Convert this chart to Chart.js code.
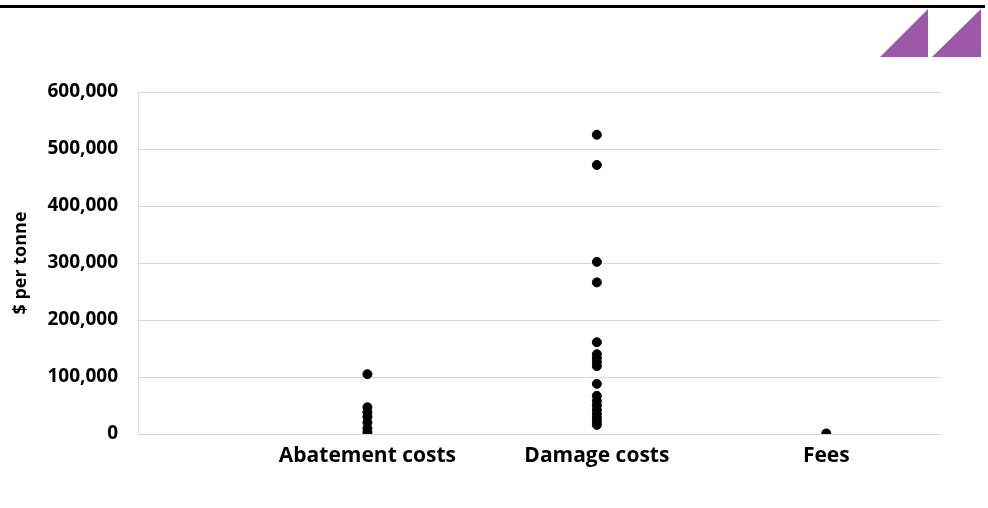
<!DOCTYPE html>
<html>
<head>
<meta charset="utf-8">
<script src="https://cdn.jsdelivr.net/npm/chart.js@4/dist/chart.umd.min.js"></script>
<style>
  html, body { margin: 0; padding: 0; background: #fff; }
  #wrap { position: relative; width: 988px; height: 508px; }
</style>
</head>
<body>
<div id="wrap"><canvas id="chart" width="988" height="508"></canvas></div>
<script>
// Values ($ per tonne)
const categories = ['Abatement costs', 'Damage costs', 'Fees'];
const abatementCosts = [105000, 47000, 38000, 30000, 20000, 10000, 3000];
const damageCosts = [525000, 472000, 302000, 266000, 161000, 140000, 133000, 126000, 119000,
  88000, 67000, 58000, 50000, 42000, 35000, 28000, 22000, 16000];
const fees = [1000];
const yTicks = [0, 100000, 200000, 300000, 400000, 500000, 600000];

const seriesValues = [abatementCosts, damageCosts, fees];
const points = [];
seriesValues.forEach((vals, i) => {
  vals.forEach(v => points.push({ x: i + 1, y: v }));
});

// header rule and purple corner triangles
const decor = {
  id: 'decor',
  beforeDraw(chart) {
    const ctx = chart.ctx;
    ctx.save();
    ctx.fillStyle = '#000';
    ctx.fillRect(0, 5, 985, 3);
    ctx.fillStyle = '#9b59a8';
    ctx.beginPath();
    ctx.moveTo(880, 57); ctx.lineTo(928, 9); ctx.lineTo(928, 57); ctx.closePath();
    ctx.fill();
    ctx.beginPath();
    ctx.moveTo(932, 57); ctx.lineTo(981, 9); ctx.lineTo(981, 57); ctx.closePath();
    ctx.fill();
    ctx.restore();
  }
};

new Chart(document.getElementById('chart'), {
  type: 'scatter',
  data: {
    datasets: [{
      data: points,
      backgroundColor: '#000',
      borderColor: '#000',
      pointRadius: 4.5,
      pointHoverRadius: 4.5,
    }]
  },
  options: {
    responsive: false,
    animation: false,
    layout: { padding: { top: 92, right: 47, bottom: 0, left: 0 } },
    plugins: { legend: { display: false }, tooltip: { enabled: false } },
    scales: {
      x: {
        type: 'linear',
        min: 0,
        max: 3.5,
        afterBuildTicks(axis) { axis.ticks = categories.map((c, i) => ({ value: i + 1 })); },
        afterFit(axis) { axis.height = 74; },
        ticks: {
          color: '#000',
          padding: 1,
          font: { family: 'Open Sans', size: 21, weight: 'bold' },
          callback: (v) => categories[v - 1] || '',
        },
        grid: { display: false },
        border: { display: false },
      },
      y: {
        min: 0,
        max: 600000,
        afterBuildTicks(axis) { axis.ticks = yTicks.map(v => ({ value: v })); },
        afterFit(axis) { axis.width = 138; },
        title: {
          display: true,
          text: '$ per tonne',
          color: '#000',
          font: { family: 'Open Sans', size: 18, weight: 'bold' },
          padding: { top: 10, bottom: 0 },
        },
        ticks: {
          color: '#000',
          padding: 20,
          font: { family: 'Open Sans', size: 19, weight: 'bold' },
          callback: (v) => v.toLocaleString('en-US'),
        },
        grid: { color: '#d9d9d9', lineWidth: 1, drawTicks: false },
        border: { color: '#d9d9d9' },
      }
    }
  },
  plugins: [decor]
});
</script>
</body>
</html>
